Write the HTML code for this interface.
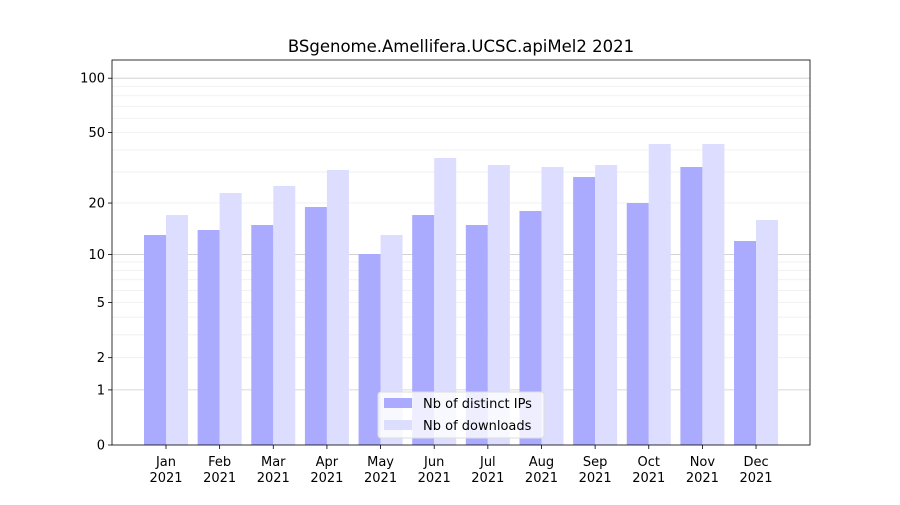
<!DOCTYPE html>
<html><head><meta charset="utf-8"><style>
body{margin:0;background:#fff}
svg text{font-family:"DejaVu Sans","Liberation Sans",sans-serif;fill:#000}
</style></head><body>
<svg id="s" width="900" height="500" xmlns="http://www.w3.org/2000/svg"></svg>
<script>
const s=document.getElementById('s');let h='';
const Y=v=>445-183*Math.log10(v+1);
const L=112,R=810,T=60,B=445;
const minors=[];for(let d of [1,10])for(let m=2;m<=9;m++)minors.push(m*d);
for(const v of minors){const y=Y(v);h+=`<line x1="${L}" x2="${R}" y1="${y}" y2="${y}" stroke="#eeeeee" stroke-width="0.8"/>`;}
for(const v of [1,10,100]){const y=Y(v);h+=`<line x1="${L}" x2="${R}" y1="${y}" y2="${y}" stroke="#cccccc" stroke-width="0.8"/>`;}
const ip=[235,230,225,207,254,215,225,211,177,203,167,241];
const dl=[215,193,186,170,235,158,165,167,165,144,144,220];
const mon=['Jan','Feb','Mar','Apr','May','Jun','Jul','Aug','Sep','Oct','Nov','Dec'];
for(let i=0;i<12;i++){const c=166+i*53.64;
h+=`<rect x="${c-22}" y="${ip[i]}" width="22" height="${B-ip[i]}" fill="#aaaaff"/>`;
h+=`<rect x="${c}" y="${dl[i]}" width="22" height="${B-dl[i]}" fill="#ddddff"/>`;
h+=`<line x1="${c}" x2="${c}" y1="${B}" y2="${B+4}" stroke="#000" stroke-width="0.8"/>`;
h+=`<text x="${c}" y="466" font-size="13" text-anchor="middle">${mon[i]}</text><text x="${c}" y="482" font-size="13" text-anchor="middle">2021</text>`;}
for(const v of [0,1,2,5,10,20,50,100]){const y=Y(v);
h+=`<line x1="${L-4}" x2="${L}" y1="${y}" y2="${y}" stroke="#000" stroke-width="0.8"/>`;
h+=`<text x="${L-7}" y="${y+4.5}" font-size="13" text-anchor="end">${v}</text>`;}
h+=`<rect x="${L}" y="${T}" width="${R-L}" height="${B-T}" fill="none" stroke="#000" stroke-width="0.8"/>`;
h+=`<text x="461" y="52" font-size="16.5" text-anchor="middle">BSgenome.Amellifera.UCSC.apiMel2 2021</text>`;
h+=`<rect x="378" y="392" width="166" height="46" rx="3" fill="#fff" fill-opacity="0.8" stroke="#dddddd"/>`;
h+=`<rect x="384" y="398" width="28" height="10" fill="#aaaaff"/><text x="423" y="408" font-size="13">Nb of distinct IPs</text>`;
h+=`<rect x="384" y="420" width="28" height="10" fill="#ddddff"/><text x="423" y="430" font-size="13">Nb of downloads</text>`;
s.innerHTML=h;
</script>
</body></html>
